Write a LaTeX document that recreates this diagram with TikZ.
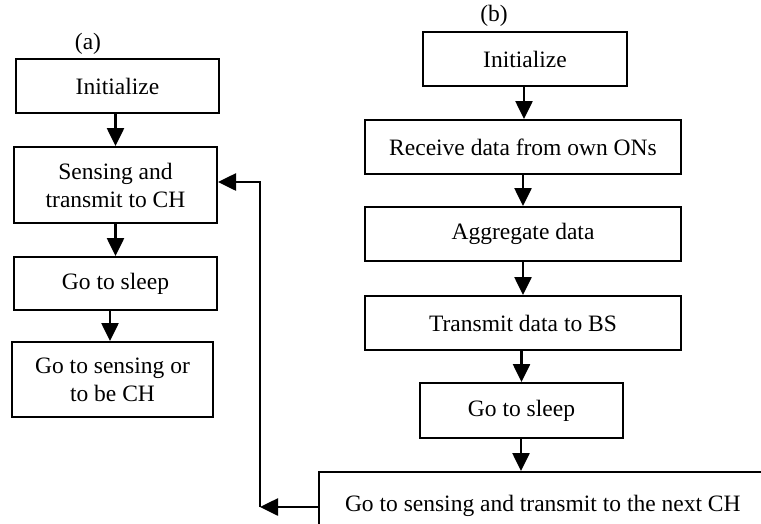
\documentclass[tikz,border=0pt]{standalone}
\usepackage{fontspec}
\setmainfont{Liberation Serif}
\usetikzlibrary{arrows.meta}
\begin{document}
\begin{tikzpicture}[x=1pt,y=-1pt,
  box/.style={draw, line width=2pt, inner sep=0pt, align=center, font=\fontsize{23.5}{28}\selectfont},
  arr/.style={line width=2.6pt, -{Triangle[width=17pt,length=18pt]}},
  lbl/.style={font=\fontsize{23.5}{28}\selectfont, inner sep=0pt}]
\useasboundingbox (0,0) rectangle (761,523);
\clip (0,0) rectangle (761,523);
% labels
\node[lbl] (la) at (88,44) {(a)};
\node[lbl] (lb) at (494,16) {(b)};
% left column
\node[box, minimum width=203pt, minimum height=54pt] (ia) at (117.5,86) {Initialize};
\node[box, minimum width=203pt, minimum height=76pt] (isens) at (115.5,185) {Sensing and\\transmit to CH};
\node[box, minimum width=203pt, minimum height=53pt] (isleep) at (115.5,283.5) {Go to sleep};
\node[box, minimum width=201pt, minimum height=75pt] (igo) at (112.5,379.5) {Go to sensing or\\to be CH};
% right column
\node[box, minimum width=204pt, minimum height=54pt] (binit) at (525,59) {Initialize};
\node[box, minimum width=316pt, minimum height=54pt] (brecv) at (523,147) {Receive data from own ONs};
\node[box, minimum width=316pt, minimum height=54pt] (bagg) at (523,234) {Aggregate data};
\node[box, minimum width=316pt, minimum height=54pt] (btx) at (523,323) {Transmit data to BS};
\node[box, minimum width=203pt, minimum height=55pt] (bsleep) at (521.5,410.5) {Go to sleep};
\node[box, anchor=north west, align=flush left, inner xsep=26pt, text width=470pt, minimum height=68pt] (bot) at (318,471) {Go to sensing and transmit to the next CH};
\coordinate (c1) at (260,507);
% left arrows
\draw[arr] (isens.north |- ia.south) -- (isens.north);
\draw[arr] (isens.south) -- (isleep.north);
\draw[arr] ([xshift=-2.5pt]igo.north |- isleep.south) -- ([xshift=-2.5pt]igo.north);
% right arrows
\draw[arr] ([xshift=-1pt]binit.south) -- ([xshift=-1pt]binit.south |- brecv.north);
\draw[arr] (brecv.south) -- (bagg.north);
\draw[arr] (bagg.south) -- (btx.north);
\draw[arr] (bsleep.north |- btx.south) -- (bsleep.north);
\draw[arr] ([xshift=-0.5pt]bsleep.south) -- ([xshift=-0.5pt]bsleep.south |- bot.north);
% feedback
\draw[arr] (bot.west |- c1) -- (c1);
\draw[arr] (c1) |- ([yshift=3pt]isens.east);
\end{tikzpicture}
\end{document}
